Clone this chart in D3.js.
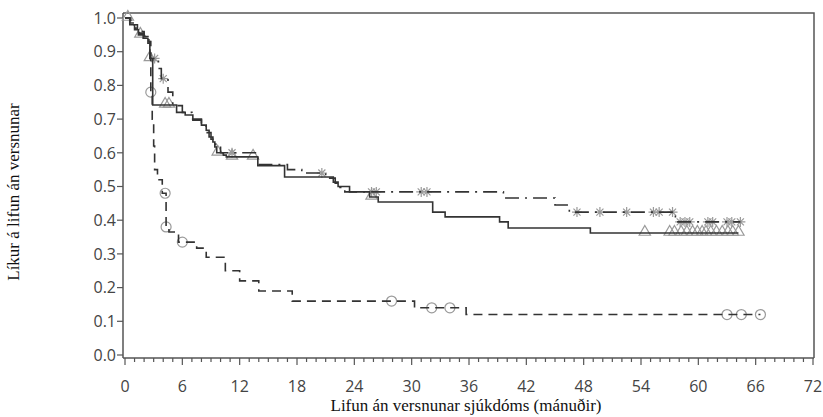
<!DOCTYPE html>
<html>
<head>
<meta charset="utf-8">
<script src="https://cdn.jsdelivr.net/npm/d3@7/dist/d3.min.js"></script>
<style>
  html, body { margin: 0; padding: 0; background: #fff; }
  svg { display: block; }
</style>
</head>
<body>
<svg id="chart" width="823" height="417"></svg>
<script>
// Kaplan–Meier step data: event times (months) and survival after each step
const solidTimes = [0, 0.5, 1.0, 1.4, 1.9, 2.4, 2.6, 2.9, 5.4, 6.3, 7.1, 8.0, 8.5, 8.8, 9.2, 9.4, 9.6, 10.3, 10.6, 13.9, 16.7, 21.8, 22.3, 23.5, 25.6, 26.5, 32.2, 33.5, 39.2, 40.1, 48.7];
const solidSurv  = [1.0, 0.98, 0.965, 0.95, 0.94, 0.925, 0.88, 0.742, 0.72, 0.712, 0.697, 0.682, 0.667, 0.647, 0.632, 0.617, 0.60, 0.593, 0.588, 0.562, 0.528, 0.513, 0.50, 0.484, 0.469, 0.454, 0.424, 0.41, 0.395, 0.377, 0.362];
const solidEnd = 64.2;
const solidCensor = [0.3, 1.6, 2.6, 4.2, 4.6, 9.7, 11.2, 13.4, 25.8, 54.4, 57.0, 57.5, 58.2, 58.8, 59.4, 59.9, 60.4, 60.8, 61.3, 61.9, 62.5, 63.1, 63.6, 64.2];

const dashDotTimes = [0, 0.5, 1.0, 1.5, 2.0, 2.4, 2.6, 3.5, 3.8, 4.5, 5.0, 6.0, 7.0, 8.0, 8.5, 9.0, 9.5, 10.0, 13.9, 17.0, 18.5, 21.0, 22.0, 22.5, 23.0, 39.6, 45.0, 46.5, 57.6];
const dashDotSurv  = [1.0, 0.985, 0.97, 0.955, 0.945, 0.93, 0.88, 0.85, 0.82, 0.78, 0.74, 0.72, 0.70, 0.68, 0.66, 0.64, 0.62, 0.60, 0.565, 0.55, 0.54, 0.525, 0.51, 0.497, 0.484, 0.466, 0.445, 0.424, 0.395];
const dashDotEnd = 64.4;
const dashDotCensor = [3.1, 4.0, 11.2, 20.6, 25.8, 26.3, 31.0, 31.6, 47.3, 49.7, 52.5, 55.3, 55.9, 57.3, 58.1, 58.6, 59.1, 61.0, 61.5, 63.0, 63.5, 64.4];

const dashedTimes = [0, 0.6, 1.3, 2.0, 2.5, 2.7, 2.85, 3.0, 3.1, 3.4, 3.9, 4.3, 4.6, 5.6, 7.5, 8.5, 10.5, 12.0, 14.0, 17.5, 30.3, 35.7];
const dashedSurv  = [1.0, 0.98, 0.96, 0.945, 0.93, 0.78, 0.70, 0.62, 0.55, 0.52, 0.48, 0.38, 0.365, 0.335, 0.317, 0.29, 0.25, 0.22, 0.19, 0.16, 0.14, 0.12];
const dashedEnd = 66.5;
const dashedCensor = [2.7, 4.2, 4.3, 6.0, 27.9, 32.1, 34.0, 63.0, 64.5, 66.5];

const xTicks = [0, 6, 12, 18, 24, 30, 36, 42, 48, 54, 60, 66, 72];
const yTicks = [0.0, 0.1, 0.2, 0.3, 0.4, 0.5, 0.6, 0.7, 0.8, 0.9, 1.0];
const xTitle = "Lifun án versnunar sjúkdóms (mánuðir)";
const yTitle = "Líkur á lifun án versnunar";

const svg = d3.select("#chart");
const frame = { left: 123, top: 13, right: 814, bottom: 358 };
const x = d3.scaleLinear().domain([0, 72]).range([125, 813]);
const y = d3.scaleLinear().domain([0, 1]).range([355, 18]);

const lineColor = "#333";
const markColor = "#9a9a9a";
const tickFont = "'Open Sans', 'DejaVu Sans', sans-serif";

// frame (top and right borders)
svg.append("path")
  .attr("d", `M${frame.left},${frame.top}H${frame.right}V${frame.bottom}`)
  .attr("fill", "none").attr("stroke", "#555").attr("stroke-width", 1.5);

// x axis with monthly minor ticks
const xAxisG = svg.append("g").attr("transform", `translate(0,${frame.bottom})`);
xAxisG.append("line").attr("x1", frame.left).attr("x2", frame.right).attr("y1", 0).attr("y2", 0)
  .attr("stroke", "#555").attr("stroke-width", 1.5);
xAxisG.selectAll("line.minor").data(d3.range(0, 73)).join("line")
  .attr("class", "minor")
  .attr("x1", d => x(d)).attr("x2", d => x(d))
  .attr("y1", 0).attr("y2", d => (d % 6 === 0 ? 7 : 4))
  .attr("stroke", "#555").attr("stroke-width", 1.2);
xAxisG.selectAll("text").data(xTicks).join("text")
  .attr("x", d => x(d)).attr("y", 34)
  .attr("text-anchor", "middle")
  .attr("font-family", tickFont).attr("font-size", 16).attr("fill", "#444")
  .text(d => d);

// y axis
const yAxisG = svg.append("g").attr("transform", `translate(${frame.left},0)`);
yAxisG.append("line").attr("x1", 0).attr("x2", 0).attr("y1", frame.top).attr("y2", frame.bottom)
  .attr("stroke", "#555").attr("stroke-width", 1.5);
yAxisG.selectAll("line.tick").data(yTicks).join("line")
  .attr("class", "tick")
  .attr("x1", -6).attr("x2", 0).attr("y1", d => y(d)).attr("y2", d => y(d))
  .attr("stroke", "#555").attr("stroke-width", 1.2);
yAxisG.selectAll("text").data(yTicks).join("text")
  .attr("x", -7).attr("y", d => y(d)).attr("dy", "0.36em")
  .attr("text-anchor", "end")
  .attr("font-family", tickFont).attr("font-size", 16).attr("fill", "#444")
  .text(d => d3.format(".1f")(d));

// axis titles
svg.append("text")
  .attr("x", 466).attr("y", 411).attr("text-anchor", "middle")
  .attr("font-family", "'Liberation Serif', 'DejaVu Serif', serif").attr("font-size", 17).attr("fill", "#111")
  .text(xTitle);
svg.append("text")
  .attr("transform", "translate(19,192) rotate(-90)").attr("text-anchor", "middle")
  .attr("font-family", "'Liberation Serif', 'DejaVu Serif', serif").attr("font-size", 17).attr("fill", "#111")
  .text(yTitle);

// survival lookup for a step curve
function survAt(times, surv, t) {
  const i = d3.bisectRight(times, t) - 1;
  return surv[Math.max(0, i)];
}

const stepLine = d3.line().x(d => x(d[0])).y(d => y(d[1])).curve(d3.curveStepAfter);

const series = [
  { times: dashedTimes, surv: dashedSurv, end: dashedEnd, censor: dashedCensor, dash: "9,6", mark: "circle" },
  { times: dashDotTimes, surv: dashDotSurv, end: dashDotEnd, censor: dashDotCensor, dash: "14,6,2,6", mark: "star" },
  { times: solidTimes, surv: solidSurv, end: solidEnd, censor: solidCensor, dash: null, mark: "triangle" }
];

const plot = svg.append("g");

// censoring marks under the lines
series.forEach(s => {
  const pts = s.censor.map(t => [x(t), y(survAt(s.times, s.surv, t))]);
  const g = plot.append("g").attr("fill", "none").attr("stroke", markColor).attr("stroke-width", 1.2);
  if (s.mark === "circle") {
    g.selectAll("circle").data(pts).join("circle")
      .attr("cx", d => d[0]).attr("cy", d => d[1]).attr("r", 5);
  } else if (s.mark === "triangle") {
    const tri = d3.symbol().type(d3.symbolTriangle).size(55);
    g.selectAll("path").data(pts).join("path")
      .attr("transform", d => `translate(${d[0]},${d[1] - 1})`).attr("d", tri());
  } else {
    const r = 5;
    const star = d3.range(4).map(k => {
      const a = k * Math.PI / 4;
      return `M${-r * Math.cos(a)},${-r * Math.sin(a)}L${r * Math.cos(a)},${r * Math.sin(a)}`;
    }).join("");
    g.selectAll("path").data(pts).join("path")
      .attr("transform", d => `translate(${d[0]},${d[1]})`).attr("d", star);
  }
});

// survival step curves
series.forEach(s => {
  const pts = s.times.map((t, i) => [t, s.surv[i]]);
  pts.push([s.end, s.surv[s.surv.length - 1]]);
  plot.append("path")
    .attr("d", stepLine(pts))
    .attr("fill", "none").attr("stroke", lineColor).attr("stroke-width", 1.6)
    .attr("stroke-dasharray", s.dash);
});
</script>
</body>
</html>
